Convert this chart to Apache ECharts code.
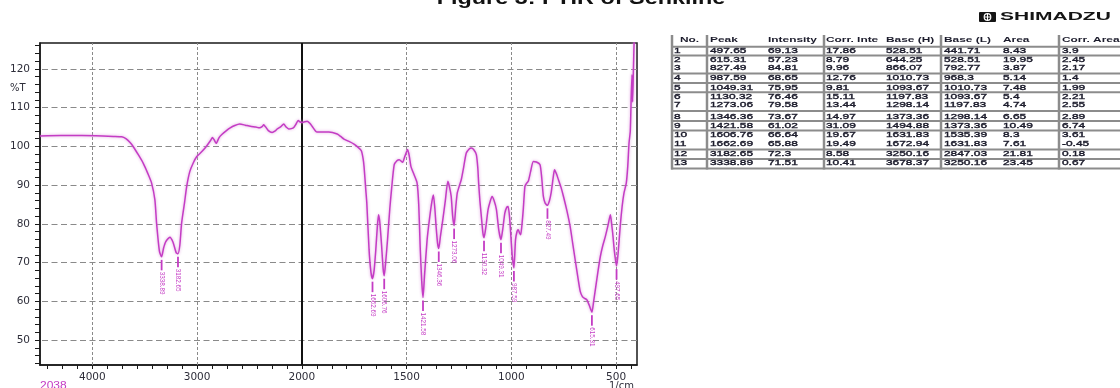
<!DOCTYPE html>
<html><head><meta charset="utf-8">
<script src="https://cdn.jsdelivr.net/npm/echarts@6/dist/echarts.min.js"></script>
<style>html,body{margin:0;padding:0;background:#fff}#c{width:1120px;height:388px}</style>
</head><body><div id="c"></div>
<script>
// ---- spectrum (wavenumber 1/cm, %T) ----
const wavenumbers = [
  4500,4300,4100,3900,3800,3720,3680,3640,3611,3560,
  3515,3470,3435,3403,3387,3360,3338.89,3320,3300,3260,
  3230,3200,3182.65,3165,3148,3120,3100,3070,3036,3003,
  2950,2907,2870,2853,2835,2818,2790,2764,2720,2684,
  2640,2594,2540,2492,2440,2403,2380,2364,2345,2320,
  2284,2250,2236,2200,2173,2150,2125,2100,2077,2055,
  2035,2015,1998,1975,1962,1951,1935,1927,1900,1871,
  1831,1815,1799,1775,1751,1730,1716,1708,1703,1695,
  1690,1679,1670,1662.69,1655,1647,1640,1634,1628,1620,
  1612,1606.76,1600,1591,1580,1572,1559,1545,1535,1519,
  1508,1495,1487,1479,1465,1450,1442,1435,1428,1421.58,
  1414,1402,1391,1380,1372,1365,1359,1352,1346.36,1338,
  1327,1315,1303,1295,1287,1280,1273.06,1265,1258,1250,
  1239,1228,1215,1200,1191,1180,1167,1160,1156,1150,
  1143,1136,1130.32,1122,1111,1100,1092,1082,1071,1060,
  1049.31,1040,1031,1022,1015,1008,1003,996,987.59,980,
  973,967,960,955,948,943,935,927,919,908,
  895,880,863,855,847,838,827.49,818,810,800,
  794,785,775,763,751,735,719,707,695,683,
  671,660,650,639,628,615.31,607,599,587,575,
  563,551,539,527,520,516,508,497.65,490,480,
  471,462,451,444,438,432,428,424,421,417,
  412,400
];
const transmittance = [
  102.7,102.8,102.8,102.7,102.6,102.5,102.0,101.0,100.0,97.8,
  95.7,93.0,90.6,86.2,80.2,73.0,71.51,73.8,75.4,76.6,
  75.3,72.6,72.3,74.5,80.2,85.5,89.6,93.5,95.8,97.4,
  98.8,100.2,101.6,102.3,101.6,100.8,102.3,103.1,104.1,104.8,
  105.4,105.8,105.5,105.2,105.0,104.8,105.1,105.6,105.0,104.1,
  103.6,104.1,104.5,105.1,105.8,105.0,104.5,104.6,104.9,105.8,
  106.7,106.3,106.2,106.5,106.0,105.2,104.0,103.7,103.7,103.7,
  103.2,102.6,101.9,101.3,100.6,99.7,98.9,97.0,94.8,89.0,
  85.5,73.3,67.5,65.88,68.0,73.3,79.0,82.4,80.5,75.0,
  68.5,66.64,70.0,75.9,84.0,88.8,95.3,96.4,96.6,95.9,
  97.5,99.2,97.5,94.8,92.8,90.6,85.0,74.0,65.5,61.02,
  67.0,75.9,81.1,85.5,87.5,84.0,79.3,75.0,73.67,77.0,
  81.1,86.0,91.0,89.5,87.1,82.0,79.58,84.5,88.0,89.5,
  91.4,94.5,98.3,99.4,99.6,99.2,97.9,94.5,90.6,86.0,
  81.9,77.8,76.46,79.0,83.7,86.0,87.1,86.0,83.7,78.5,
  75.95,79.0,82.8,84.3,84.5,81.5,77.6,72.0,68.65,75.9,
  78.0,78.5,77.6,77.2,80.5,83.7,89.7,90.5,91.0,93.5,
  96.1,96.0,95.3,92.0,87.1,85.3,84.81,86.0,88.0,92.0,
  94.0,93.0,91.4,89.5,87.1,83.5,79.3,75.0,70.7,66.5,
  62.6,61.2,60.8,60.4,59.0,57.23,60.0,63.0,67.5,71.6,
  74.5,76.8,79.5,82.4,79.5,77.6,73.0,69.13,72.5,79.5,
  84.5,88.0,90.6,95.0,100.9,104.0,112.0,118.5,111.5,120.0,
  130.0,140.0
];

// ---- peak table ----
const tableHeaders = ['No.', 'Peak', 'Intensity', 'Corr. Inte', 'Base (H)', 'Base (L)', 'Area', 'Corr. Area'];
const tableNo = [1,2,3,4,5,6,7,8,9,10,11,12,13];
const tablePeak = [497.65,615.31,827.49,987.59,1049.31,1130.32,1273.06,1346.36,1421.58,1606.76,1662.69,3182.65,3338.89];
const tableIntensity = [69.13,57.23,84.81,68.65,75.95,76.46,79.58,73.67,61.02,66.64,65.88,72.3,71.51];
const tableCorrInt = [17.86,8.79,9.96,12.76,9.81,15.11,13.44,14.97,31.09,19.67,19.49,8.58,10.41];
const tableBaseH = [528.51,644.25,866.07,1010.73,1093.67,1197.83,1298.14,1373.36,1494.88,1631.83,1672.94,3250.16,3678.37];
const tableBaseL = [441.71,528.51,792.77,968.3,1010.73,1093.67,1197.83,1298.14,1373.36,1535.39,1631.83,2847.03,3250.16];
const tableArea = [8.43,19.95,3.87,5.14,7.48,5.4,4.74,6.65,10.49,8.3,7.61,21.81,23.45];
const tableCorrArea = [3.9,2.45,2.17,1.4,1.99,2.21,2.55,2.89,6.74,3.61,-0.45,0.18,0.67];

// ---- axis ticks ----
const xTickWavenumbers = [4000,3000,2000,1500,1000,500];
const xTickLabels = ['4000','3000','2000','1500','1000','500'];
const yTickLabels = [50,60,70,80,90,100,110,120];

// split scale: above 2000 1/cm the axis is compressed by 2
const toU = w => (w > 2000 ? 2000 + (w - 2000) / 2 : w);

const seriesData = wavenumbers.map((w, i) => [toU(w), transmittance[i]]);
const peakData = tablePeak.map((w, i) => [toU(w), tableIntensity[i]]);
const xTickPositions = xTickWavenumbers.map(toU);
const xMinorTicks = [];
for (let k = -1; k <= 38; k++) xMinorTicks.push(500 + k * 500 / 7);
const yMinorTicks = [];
for (let v = 44; v <= 126; v += 2) yMinorTicks.push(v);

const AX = '#1a1a1a';
const LBL = '#2e2e3a';
const MAG = '#c43cc4';

// ---- table graphics ----
const colX = [674, 710, 768, 826, 886, 944, 1003, 1062];
const headerX = [680, 710, 768, 826, 886, 944, 1003, 1062];
const rowY = [51.2, 60, 68.5, 78.3, 87.7, 96.7, 105.5, 116.8, 125.8, 135.2, 144.5, 153.8, 163.5];
const hLines = [46.7, 55.5, 73.5, 83, 92.2, 111, 121, 130.5, 149.5, 159, 168.5];
const vLines = [672, 707, 824, 941, 1059];
const cols = [tableNo, tablePeak, tableIntensity, tableCorrInt, tableBaseH, tableBaseL, tableArea, tableCorrArea];

const graphics = [];
vLines.forEach(x => graphics.push({type:'line', shape:{x1:x, y1:35, x2:x, y2:169.5}, style:{stroke:'#8c8c8c', lineWidth:2.5}, silent:true}));
hLines.forEach(y => graphics.push({type:'line', shape:{x1:671, y1:y, x2:1120, y2:y}, style:{stroke:'#8c8c8c', lineWidth:2}, silent:true}));
tableHeaders.forEach((h, c) => graphics.push({type:'text', x:headerX[c], y:40, scaleX:1.7, silent:true,
  style:{text:h, font:'bold 7px "Liberation Sans", Arial, sans-serif', fill:'#1c1c2c', align:'left', verticalAlign:'middle'}}));
cols.forEach((col, c) => col.forEach((v, r) => graphics.push({type:'text', x:colX[c], y:rowY[r], scaleX:1.7, silent:true,
  style:{text:String(v), font:'7px "Liberation Sans", Arial, sans-serif', fill:'#1c1c2c', stroke:'#1c1c2c', lineWidth:0.35,
    align:'left', verticalAlign:'middle'}})));

// title (cut off at top) and logo
graphics.push({type:'text', x:581, y:8, scaleX:1.3, silent:true,
  style:{text:'Figure 3: FTIR of Senkline', font:'bold 18px "Liberation Sans", Arial, sans-serif', fill:'#111', align:'center', verticalAlign:'bottom'}});
graphics.push({type:'rect', shape:{x:979, y:12, width:17, height:10, r:1}, style:{fill:'#151515'}, silent:true});
graphics.push({type:'circle', shape:{cx:987.5, cy:17, r:3.3}, style:{fill:'none', stroke:'#fff', lineWidth:1.2}, silent:true});
graphics.push({type:'line', shape:{x1:984.2, y1:17, x2:990.8, y2:17}, style:{stroke:'#fff', lineWidth:1}, silent:true});
graphics.push({type:'line', shape:{x1:987.5, y1:13.7, x2:987.5, y2:20.3}, style:{stroke:'#fff', lineWidth:1}, silent:true});
graphics.push({type:'text', x:1000, y:17.2, scaleX:2.1, silent:true,
  style:{text:'SHIMADZU', font:'bold 10px "Liberation Sans", Arial, sans-serif', fill:'#151515', align:'left', verticalAlign:'middle'}});
// axis captions
graphics.push({type:'text', x:10, y:88.5, silent:true,
  style:{text:'%T', font:'10px "DejaVu Sans", sans-serif', fill:LBL, align:'left', verticalAlign:'middle'}});
graphics.push({type:'text', x:609, y:381.5, silent:true,
  style:{text:'1/cm', font:'10px "DejaVu Sans", sans-serif', fill:LBL, align:'left', verticalAlign:'top'}});
graphics.push({type:'text', x:40, y:381.5, scaleX:1.2, silent:true,
  style:{text:'2038', font:'10px "Liberation Sans", Arial, sans-serif', fill:MAG, align:'left', verticalAlign:'top'}});

const chart = echarts.init(document.getElementById('c'), null, {renderer:'canvas'});
chart.setOption({
  animation: false,
  backgroundColor: '#fff',
  grid: {left:40, top:43, right:483, bottom:23, show:true, borderColor:AX, borderWidth:1.5, backgroundColor:'transparent'},
  xAxis: {
    type:'value', inverse:true, min:400, max:3250,
    axisLine:{show:true, onZero:false, lineStyle:{color:AX, width:1.5}},
    axisTick:{show:true, customValues:xMinorTicks, length:4, lineStyle:{color:AX, width:1}},
    axisLabel:{show:true, customValues:xTickPositions, margin:7, color:LBL, fontFamily:'DejaVu Sans', fontSize:10.5,
      formatter: v => { const i = xTickPositions.findIndex(p => Math.abs(p - v) < 1e-6); return i >= 0 ? xTickLabels[i] : ''; }},
    splitLine:{show:false}
  },
  yAxis: {
    type:'value', min:43.6, max:126.7,
    axisLine:{show:true, onZero:false, lineStyle:{color:AX, width:1.5}},
    axisTick:{show:true, customValues:yMinorTicks, length:5, lineStyle:{color:AX, width:1}},
    axisLabel:{show:true, customValues:yTickLabels, margin:10, color:LBL, fontFamily:'DejaVu Sans', fontSize:10.5},
    splitLine:{show:false}
  },
  series: [
    {
      type:'line', data:seriesData, showSymbol:false, symbol:'none', smooth:0.2, clip:true, z:3,
      lineStyle:{color:MAG, width:1.5, shadowColor:'rgba(220,150,220,0.95)', shadowBlur:3},
      silent:true,
      markLine:{
        silent:true, symbol:['none','none'], label:{show:false}, animation:false, z:1,
        lineStyle:{color:'#8a8a8a', width:1},
        emphasis:{disabled:true},
        data:[
          ...yTickLabels.map(v => ({yAxis:v, lineStyle:{color:'#8a8a8a', type:[6,3.5], width:1}})),
          ...[3000,2500,1500,1000,500].map(v => ({xAxis:v, lineStyle:{color:'#8a8a8a', type:[3,2], width:1}})),
          {xAxis:2000, lineStyle:{color:'#111', type:'solid', width:2}}
        ]
      }
    },
    {
      type:'custom', data:peakData, z:4, silent:true,
      encode:{x:0, y:1},
      renderItem:(params, api) => {
        const p = api.coord([api.value(0), api.value(1)]);
        const label = String(tablePeak[params.dataIndex]);
        return {type:'group', children:[
          {type:'line', shape:{x1:p[0], y1:p[1]+3, x2:p[0], y2:p[1]+13.5}, style:{stroke:MAG, lineWidth:1.8}},
          {type:'text', x:p[0], y:p[1]+15, rotation:-Math.PI/2,
            style:{text:label, fill:MAG, font:'6.3px "Liberation Sans", Arial, sans-serif', align:'left', verticalAlign:'middle'}}
        ]};
      }
    }
  ],
  graphic: {elements: graphics}
});
</script>
</body></html>
